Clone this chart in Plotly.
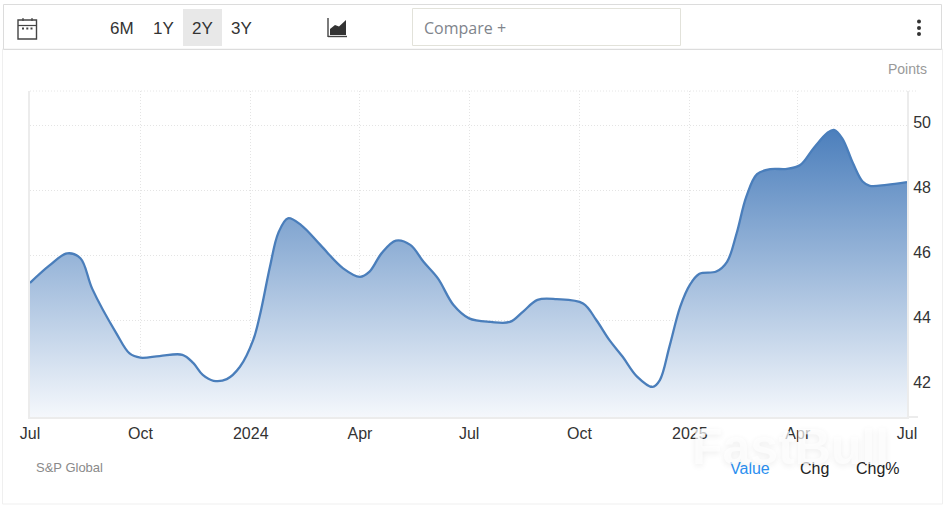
import plotly.graph_objects as go

# ---- data ----
dates = ["2023-07-01","2023-07-17","2023-08-01","2023-08-12","2023-08-22","2023-09-11","2023-09-22",
         "2023-10-01","2023-10-17","2023-11-05","2023-11-14","2023-11-22","2023-12-01","2023-12-12","2023-12-23",
         "2024-01-03","2024-01-09","2024-01-17","2024-01-24","2024-02-01","2024-02-12","2024-02-28",
         "2024-03-18","2024-04-01","2024-04-09","2024-04-19","2024-05-01","2024-05-13","2024-05-24","2024-06-05",
         "2024-06-18","2024-07-01","2024-07-19","2024-08-04","2024-08-15","2024-08-27","2024-09-12",
         "2024-10-04","2024-10-15","2024-10-26","2024-11-06","2024-11-18","2024-12-01","2024-12-07","2024-12-15",
         "2024-12-24","2025-01-01","2025-01-09","2025-01-23","2025-02-01","2025-02-09","2025-02-17","2025-02-26",
         "2025-03-09","2025-03-23","2025-04-03","2025-04-14","2025-04-26","2025-05-01","2025-05-08","2025-05-17",
         "2025-05-25","2025-05-31","2025-06-14","2025-07-01"]
values = [45.14,45.67,46.05,45.90,44.95,43.59,42.97,
          42.84,42.89,42.93,42.68,42.31,42.13,42.18,42.56,
          43.38,44.21,45.64,46.68,47.13,46.92,46.31,
          45.59,45.33,45.49,46.05,46.44,46.31,45.79,45.28,
          44.46,44.05,43.94,43.94,44.26,44.62,44.64,
          44.51,44.00,43.38,42.87,42.26,41.94,42.15,43.18,
          44.41,45.08,45.42,45.49,45.79,46.67,47.79,48.49,
          48.64,48.65,48.77,49.28,49.77,49.85,49.59,48.82,
          48.26,48.13,48.16,48.24]
x_tick_vals = ["2023-07-01","2023-10-01","2024-01-01","2024-04-01","2024-07-01",
               "2024-10-01","2025-01-01","2025-04-01","2025-07-01"]
x_tick_text = ["Jul","Oct","2024","Apr","Jul","Oct","2025","Apr","Jul"]
y_ticks = [42,44,46,48,50]
range_buttons = ["6M","1Y","2Y","3Y"]
bottom_tabs = ["Value","Chg","Chg%"]

W, H = 948, 508
L, R, T, B = 30, 907, 91, 417
FONT = "Liberation Sans, Arial, sans-serif"

def px(x): return (x - L) / (R - L)
def py(y): return (B - y) / (B - T)

fig = go.Figure()
fig.add_trace(go.Scatter(
    x=dates, y=values, mode="lines",
    line=dict(color="#4a7ebb", width=2.3, shape="spline", smoothing=1.0),
    fill="tozeroy",
    fillgradient=dict(type="vertical", start=49.85, stop=41.0,
                      colorscale=[[0, "rgb(76,127,188)"], [1, "rgb(245,248,252)"]]),
    hoverinfo="x+y", showlegend=False, cliponaxis=True,
))

shapes, annos = [], []

def rect(x0, y0, x1, y1, line=None, fill=None, lw=1):
    shapes.append(dict(type="rect", xref="paper", yref="paper", layer="below",
                       x0=px(x0), x1=px(x1), y0=py(y0), y1=py(y1),
                       line=dict(color=line or "rgba(0,0,0,0)", width=lw if line else 0),
                       fillcolor=fill or "rgba(0,0,0,0)"))

def seg(x0, y0, x1, y1, color, lw=1, dash="solid", layer="below"):
    shapes.append(dict(type="line", xref="paper", yref="paper", layer=layer,
                       x0=px(x0), x1=px(x1), y0=py(y0), y1=py(y1),
                       line=dict(color=color, width=lw, dash=dash)))

def text(x, y, s, size=16, color="#333333", anchor="center", **kw):
    annos.append(dict(x=px(x), y=py(y), xref="paper", yref="paper", text=s, showarrow=False,
                      xanchor=anchor, yanchor="middle", font=dict(family=kw.pop("family", FONT),
                      size=size, color=color, **kw)))

def path(points, fill=None, line=None, lw=1):
    d = "M " + " L ".join(f"{px(x):.5f},{py(y):.5f}" for x, y in points) + " Z"
    shapes.append(dict(type="path", path=d, xref="paper", yref="paper", layer="above",
                       fillcolor=fill or "rgba(0,0,0,0)",
                       line=dict(color=line or "rgba(0,0,0,0)", width=lw if line else 0)))

# outer frame + toolbar
rect(2.5, 49, 942.5, 504, line="#efefef")
rect(3.5, 4.5, 941.5, 49.5, line="#dcdcdc")
rect(183, 9, 222, 46, fill="#e8e8e8")
rect(412.5, 8.5, 680.5, 45.5, line="#e2e2da")

for cx, s in zip([121.5, 163, 202, 241.5], range_buttons):
    text(cx, 28, s, size=17, color="#333333")
text(422, 28, "Compare +", size=16, color="#80848c", anchor="left", family="Open Sans, sans-serif")
text(929, 69, "Points", size=14, color="#999999", anchor="right")
text(34, 467, "S&P Global", size=13, color="#8a8a8a", anchor="left")
for cx, s, c in zip([750, 814, 878], bottom_tabs, ["#2b8ff0", "#222222", "#222222"]):
    text(cx, 468, s, size=16, color=c)

# calendar icon
shapes.append(dict(type="rect", xref="paper", yref="paper", layer="above", x0=px(18), x1=px(36.5),
                   y0=py(20), y1=py(39), line=dict(color="#444444", width=1.4)))
seg(18, 25.5, 36.5, 25.5, "#444444", 1.2, layer="above")
seg(23, 18, 23, 21, "#444444", 1.2, layer="above")
seg(32, 18, 32, 21, "#444444", 1.2, layer="above")
for cx in (23, 27.3, 31.5):
    seg(cx - 1, 28.5, cx + 1, 28.5, "#444444", 2, layer="above")

# area icon
seg(328, 18, 328, 37, "#444444", 1.4, layer="above")
seg(328, 36.5, 347, 36.5, "#444444", 1.4, layer="above")
path([(330, 35), (330, 29), (335, 25), (339, 26.5), (346, 20), (346, 35)], fill="#333333")

# kebab menu
for cy in (21.5, 28, 34):
    shapes.append(dict(type="circle", xref="paper", yref="paper", layer="above",
                       x0=px(917), x1=px(921), y0=py(cy - 2), y1=py(cy + 2),
                       fillcolor="#333333", line=dict(width=0)))

# axis frame
seg(30, 91, 918, 91, "#e6e6e6", 1, "1px,2px")
seg(907, 417, 918, 417, "#ececec", 2)

# watermark
annos.append(dict(x=px(790), y=py(447), xref="paper", yref="paper", text="<b>FastBull</b>",
                  xanchor="center", yanchor="middle", showarrow=False,
                  font=dict(family=FONT, size=50, color="rgba(255,255,255,0.7)",
                  shadow="0px 2px 6px rgba(0,0,0,0.10)")))

fig.update_layout(
    width=W, height=H, margin=dict(l=L, r=W - R, t=T, b=H - B, pad=0),
    paper_bgcolor="white", plot_bgcolor="white", shapes=shapes, annotations=annos,
    font=dict(family=FONT, size=16, color="#333333"),
    xaxis=dict(type="date", range=["2023-07-01", "2025-07-01"], tickmode="array",
               tickvals=x_tick_vals, ticktext=x_tick_text, ticks="", showline=True,
               linecolor="#ececec", linewidth=2, gridcolor="#e4e4e4", griddash="1px,2px",
               gridwidth=1, zeroline=False, tickfont=dict(size=16, color="#333333"),
               ticklabelstandoff=1, automargin=False, mirror=False),
    yaxis=dict(side="right", range=[(385 - 417) / 32.5 + 42, (385 - 91) / 32.5 + 42],
               tickmode="array", tickvals=y_ticks, ticks="", showline=True, mirror=True,
               linecolor="#ececec", linewidth=2, gridcolor="#e4e4e4", griddash="1px,2px",
               gridwidth=1, zeroline=False, tickfont=dict(size=16, color="#333333"),
               ticklabelstandoff=1, ticklabelshift=-3, automargin=False),
)
fig.write_html("out.html", config=dict(displayModeBar=False),
               post_script="document.body.style.margin='0';")
